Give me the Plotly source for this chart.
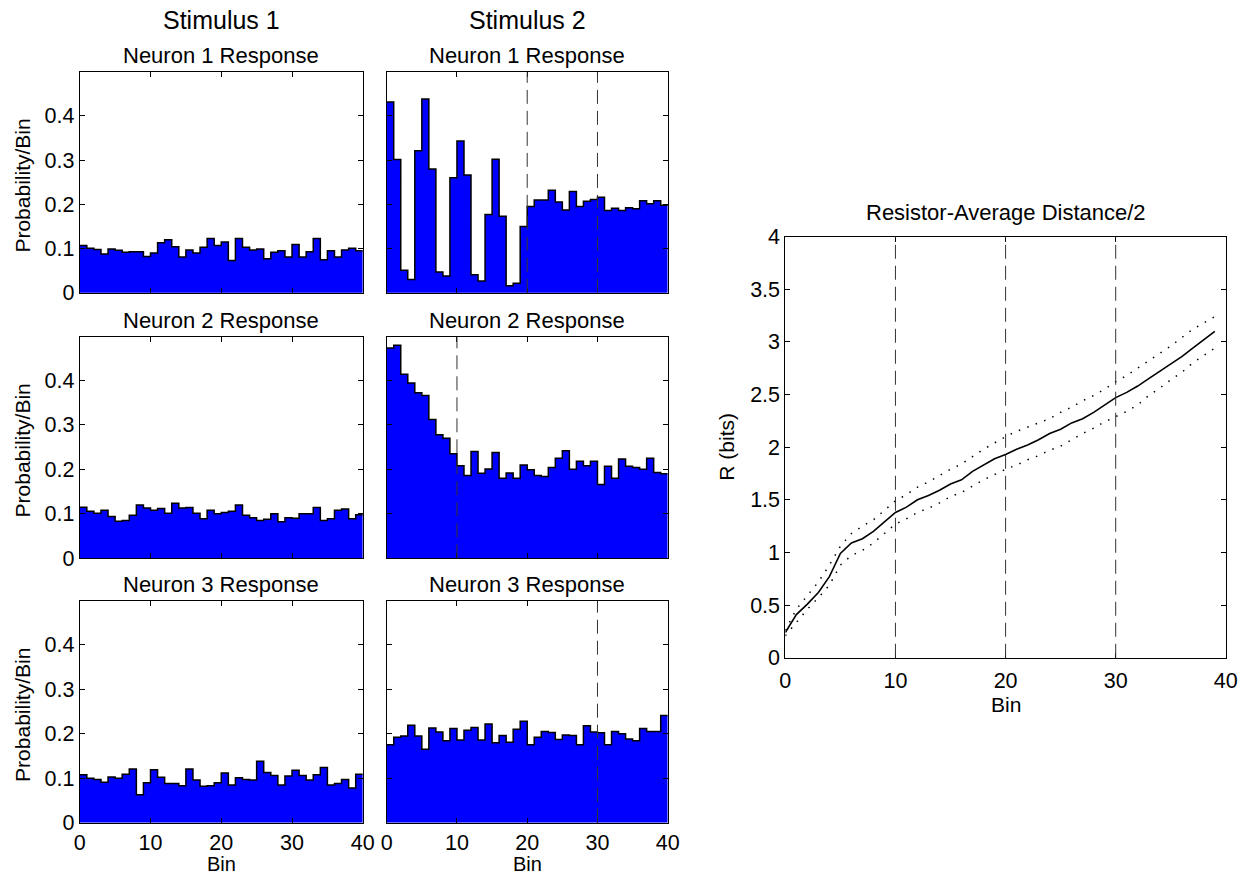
import plotly.graph_objects as go

# ---------------- data ----------------
bins = list(range(40))
bin_edges = list(range(41))

stim1_neuron1 = [0.107, 0.101, 0.098, 0.088, 0.099, 0.096, 0.092, 0.093, 0.093, 0.082,
                 0.090, 0.113, 0.120, 0.104, 0.081, 0.097, 0.090, 0.103, 0.123, 0.107,
                 0.115, 0.073, 0.123, 0.103, 0.097, 0.099, 0.077, 0.092, 0.095, 0.081,
                 0.109, 0.081, 0.093, 0.123, 0.075, 0.095, 0.081, 0.097, 0.101, 0.095]
stim2_neuron1 = [0.431, 0.301, 0.051, 0.030, 0.321, 0.438, 0.280, 0.047, 0.038, 0.260,
                 0.343, 0.266, 0.041, 0.027, 0.177, 0.302, 0.173, 0.016, 0.022, 0.150,
                 0.195, 0.210, 0.210, 0.232, 0.205, 0.187, 0.229, 0.195, 0.207, 0.211,
                 0.216, 0.186, 0.191, 0.186, 0.192, 0.190, 0.208, 0.201, 0.208, 0.198]
stim1_neuron2 = [0.115, 0.106, 0.101, 0.108, 0.094, 0.083, 0.085, 0.097, 0.120, 0.113,
                 0.108, 0.112, 0.101, 0.124, 0.113, 0.114, 0.101, 0.089, 0.108, 0.100,
                 0.103, 0.106, 0.120, 0.097, 0.091, 0.085, 0.088, 0.100, 0.082, 0.091,
                 0.090, 0.100, 0.100, 0.114, 0.085, 0.089, 0.108, 0.111, 0.089, 0.098]
stim2_neuron2 = [0.473, 0.479, 0.414, 0.394, 0.372, 0.366, 0.312, 0.278, 0.270, 0.235,
                 0.208, 0.186, 0.240, 0.191, 0.201, 0.238, 0.180, 0.192, 0.180, 0.210,
                 0.199, 0.186, 0.184, 0.204, 0.225, 0.242, 0.200, 0.218, 0.208, 0.218,
                 0.166, 0.207, 0.180, 0.223, 0.207, 0.204, 0.200, 0.225, 0.193, 0.190]
stim1_neuron3 = [0.108, 0.100, 0.097, 0.091, 0.103, 0.100, 0.109, 0.121, 0.063, 0.090,
                 0.119, 0.102, 0.088, 0.088, 0.083, 0.121, 0.096, 0.082, 0.083, 0.090,
                 0.112, 0.085, 0.101, 0.097, 0.096, 0.138, 0.113, 0.106, 0.085, 0.105,
                 0.118, 0.106, 0.096, 0.108, 0.124, 0.085, 0.088, 0.097, 0.078, 0.109]
stim2_neuron3 = [0.175, 0.192, 0.195, 0.219, 0.195, 0.165, 0.213, 0.204, 0.184, 0.212,
                 0.186, 0.208, 0.214, 0.186, 0.222, 0.180, 0.196, 0.181, 0.210, 0.228,
                 0.175, 0.192, 0.205, 0.203, 0.187, 0.197, 0.196, 0.175, 0.218, 0.204,
                 0.202, 0.175, 0.205, 0.200, 0.188, 0.184, 0.212, 0.205, 0.205, 0.241]

# dashed markers in the Stimulus 2 panels (bin positions)
marks_neuron1 = [20, 30]
marks_neuron2 = [10]
marks_neuron3 = [30]

# resistor-average distance / 2
rad_bins = list(range(40))
rad_mean = [0.24, 0.41, 0.51, 0.62, 0.77, 0.99, 1.09, 1.13, 1.20, 1.29,
            1.38, 1.43, 1.50, 1.54, 1.59, 1.65, 1.69, 1.77, 1.83, 1.89,
            1.93, 1.98, 2.02, 2.07, 2.13, 2.17, 2.23, 2.27, 2.33, 2.40,
            2.47, 2.52, 2.58, 2.65, 2.72, 2.79, 2.86, 2.94, 3.02, 3.10]
rad_upper = [0.26, 0.46, 0.59, 0.72, 0.88, 1.06, 1.18, 1.25, 1.31, 1.40,
             1.49, 1.55, 1.62, 1.67, 1.73, 1.79, 1.84, 1.91, 1.98, 2.04,
             2.10, 2.15, 2.19, 2.23, 2.27, 2.33, 2.38, 2.44, 2.49, 2.55,
             2.62, 2.68, 2.75, 2.82, 2.89, 2.96, 3.04, 3.12, 3.18, 3.24]
rad_lower = [0.21, 0.34, 0.46, 0.57, 0.69, 0.88, 0.97, 1.02, 1.09, 1.18,
             1.27, 1.32, 1.38, 1.42, 1.47, 1.53, 1.57, 1.63, 1.69, 1.74,
             1.79, 1.83, 1.88, 1.92, 1.97, 2.01, 2.07, 2.13, 2.18, 2.24,
             2.29, 2.34, 2.40, 2.49, 2.56, 2.64, 2.71, 2.80, 2.87, 2.94]
rad_marks = [10, 20, 30]

hist_xticks = [0, 10, 20, 30, 40]
hist_yticks = [0, 0.1, 0.2, 0.3, 0.4]
rad_yticks = [0, 0.5, 1, 1.5, 2, 2.5, 3, 3.5, 4]

column_titles = ["Stimulus 1", "Stimulus 2"]
row_titles = ["Neuron 1 Response", "Neuron 2 Response", "Neuron 3 Response"]

# ---------------- layout ----------------
W, H = 1252, 884
FONT = "Liberation Sans, Arial, Helvetica, sans-serif"
TICK_FS = 21.5
LABEL_FS = 21
BIN_FS = 20
TITLE_FS = 22
HEAD_FS = 25

# target positions (in the reference picture) -> figure pixels
AX, SX = 4.0, 0.989
AY, SY = 10.5, 0.975


def fx(x):
    return (x - AX) / SX


def fy(y):
    return (y - AY) / SY


def px(x):
    return fx(x) / W


def py(y):
    return 1 - fy(y) / H


col_px = [(78, 362), (386, 668)]
row_px = [(72, 293), (337, 559), (602, 824)]
right_px = (786, 1228, 236.5, 658.7)

panels = [
    [stim1_neuron1, stim2_neuron1],
    [stim1_neuron2, stim2_neuron2],
    [stim1_neuron3, stim2_neuron3],
]
panel_marks = [[[], marks_neuron1], [[], marks_neuron2], [[], marks_neuron3]]

fig = go.Figure()
axis_common = dict(showline=True, linecolor="black", linewidth=1, mirror="ticks",
                   ticks="inside", ticklen=5, tickcolor="black", tickwidth=1,
                   showgrid=False, zeroline=False,
                   tickfont=dict(family=FONT, size=TICK_FS, color="black"))
DASH = dict(color="#333333", width=1, dash="14px,7px")
shapes = []
annotations = []
layout_axes = {}

for r in range(3):
    for c in range(2):
        i = r * 2 + c + 1
        xa = "x" if i == 1 else f"x{i}"
        ya = "y" if i == 1 else f"y{i}"
        vals = panels[r][c]
        fig.add_trace(go.Scatter(
            x=bin_edges, y=vals + [vals[-1]], mode="lines",
            line=dict(shape="hv", color="black", width=1.5),
            fill="tozeroy", fillcolor="#0000FF",
            xaxis=xa, yaxis=ya, showlegend=False, hoverinfo="skip"))
        x0, x1 = col_px[c]
        y0, y1 = row_px[r]
        layout_axes[f"xaxis{i}"] = dict(axis_common, domain=[px(x0), px(x1)],
                                        range=[0, 40], tickvals=hist_xticks,
                                        showticklabels=(r == 2), anchor=ya)
        layout_axes[f"yaxis{i}"] = dict(axis_common, domain=[py(y1), py(y0)],
                                        range=[0, 0.498], tickvals=hist_yticks,
                                        showticklabels=(c == 0), anchor=xa)
        for m in panel_marks[r][c]:
            shapes.append(dict(type="line", xref=xa, yref=f"{ya} domain",
                               x0=m, x1=m, y0=0, y1=1, line=DASH))
        annotations.append(dict(text=row_titles[r], x=px((x0 + x1) / 2), y=py(y0 - 2),
                                xref="paper", yref="paper", xanchor="center", yanchor="bottom",
                                showarrow=False,
                                font=dict(family=FONT, size=TITLE_FS, color="black")))
        if c == 0:
            annotations.append(dict(text="Probability/Bin", x=px(21), y=py((y0 + y1) / 2 + 3),
                                    xref="paper", yref="paper", textangle=-90,
                                    xanchor="center", yanchor="middle", showarrow=False,
                                    font=dict(family=FONT, size=LABEL_FS, color="black")))
        if r == 2:
            annotations.append(dict(text="Bin", x=px((x0 + x1) / 2), y=1 - 877 / H,
                                    xref="paper", yref="paper", xanchor="center",
                                    yanchor="middle", showarrow=False,
                                    font=dict(family=FONT, size=BIN_FS, color="black")))

for c in range(2):
    x0, x1 = col_px[c]
    annotations.append(dict(text=column_titles[c], x=px((x0 + x1) / 2), y=py(20),
                            xref="paper", yref="paper", xanchor="center", yanchor="middle",
                            showarrow=False, font=dict(family=FONT, size=HEAD_FS, color="black")))

# right panel
rx0, rx1, ry0, ry1 = right_px
DOT = dict(color="black", width=1.5, dash="1.5px,7.5px")
fig.add_trace(go.Scatter(x=rad_bins, y=rad_upper, mode="lines", line=DOT,
                         xaxis="x7", yaxis="y7", showlegend=False, hoverinfo="skip"))
fig.add_trace(go.Scatter(x=rad_bins, y=rad_lower, mode="lines", line=DOT,
                         xaxis="x7", yaxis="y7", showlegend=False, hoverinfo="skip"))
fig.add_trace(go.Scatter(x=rad_bins, y=rad_mean, mode="lines",
                         line=dict(color="black", width=1.6),
                         xaxis="x7", yaxis="y7", showlegend=False, hoverinfo="skip"))
layout_axes["xaxis7"] = dict(axis_common, domain=[px(rx0), px(rx1)], range=[0, 40],
                             tickvals=hist_xticks, ticklabelstandoff=3, anchor="y7")
layout_axes["yaxis7"] = dict(axis_common, domain=[py(ry1), py(ry0)], range=[0, 4],
                             tickvals=rad_yticks, anchor="x7")
for m in rad_marks:
    shapes.append(dict(type="line", xref="x7", yref="y7 domain", x0=m, x1=m, y0=0, y1=1,
                       line=DASH))
annotations.append(dict(text="Resistor-Average Distance/2", x=px((rx0 + rx1) / 2),
                        y=py(212), xref="paper", yref="paper", xanchor="center",
                        yanchor="middle", showarrow=False,
                        font=dict(family=FONT, size=TITLE_FS, color="black")))
annotations.append(dict(text="R (bits)", x=px(727), y=py((ry0 + ry1) / 2),
                        xref="paper", yref="paper", textangle=-90, xanchor="center",
                        yanchor="middle", showarrow=False,
                        font=dict(family=FONT, size=LABEL_FS, color="black")))
annotations.append(dict(text="Bin", x=px((rx0 + rx1) / 2), y=py(706), xref="paper",
                        yref="paper", xanchor="center", yanchor="middle", showarrow=False,
                        font=dict(family=FONT, size=LABEL_FS, color="black")))

fig.update_layout(width=W, height=H, margin=dict(l=0, r=0, t=0, b=0),
                  paper_bgcolor="white", plot_bgcolor="white",
                  shapes=shapes, annotations=annotations, **layout_axes)
fig.write_html("out.html", config={"displayModeBar": False},
               post_script="document.body.style.margin='0px';"
                           "document.body.style.overflow='hidden';")
